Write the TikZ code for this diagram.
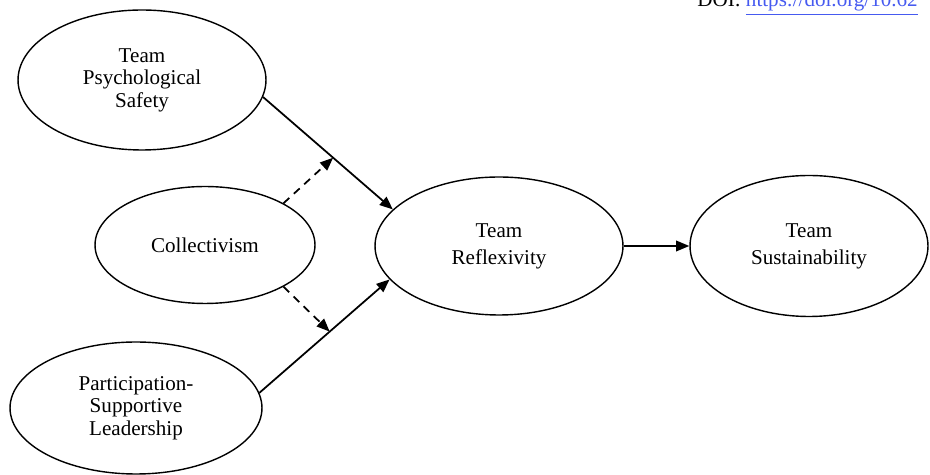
\documentclass[tikz,border=0pt]{standalone}
\usepackage{fontspec}
\setmainfont{Liberation Serif}
\usetikzlibrary{shapes.geometric, arrows.meta}
\definecolor{doiblue}{RGB}{70,90,240}

\begin{document}
\begin{tikzpicture}[x=0.02cm, y=-0.02cm, font=\fontsize{12}{12.75}\selectfont,
  latent/.style={draw, ellipse, line width=0.8pt, inner sep=0pt, align=center},
  effect/.style={->, line width=1pt},
  moder/.style={->, line width=1pt, dash pattern=on 4.5pt off 3.5pt},
  >={Triangle[length=7.5pt, width=6pt]}]
\clip (0,0) rectangle (930,475);
\node[anchor=base west, inner sep=0pt] (doi) at (697,7) {DOI: \textcolor{doiblue}{\underline{https://doi.org/10.62}}};
\node[latent, minimum width=4.96cm, minimum height=2.8cm] (psy) at (142,80) {Team\\Psychological\\Safety};
\node[latent, minimum width=4.4cm, minimum height=2.34cm] (coll) at (205,245) {Collectivism};
\node[latent, minimum width=5.04cm, minimum height=2.64cm] (lead) at (136,408) {Participation-\\Supportive\\Leadership};
\node[latent, minimum width=4.96cm, minimum height=2.76cm] (refl) at (499,246) {Team\\[2.5pt]Reflexivity};
\node[latent, minimum width=4.76cm, minimum height=2.82cm] (sust) at (809,246) {Team\\[2.5pt]Sustainability};
\draw [effect](psy.-8.5) -- (refl.161.4) coordinate[pos=.54] (m1);
\draw [effect](lead.7.4) -- (refl.197.6) coordinate[pos=.54] (m2);
\draw [moder](coll.28.3) -- (m1);
\draw [moder](coll.-28.3) -- (m2);
\draw [effect](refl.east) -- (sust.west);
\end{tikzpicture}
\end{document}
